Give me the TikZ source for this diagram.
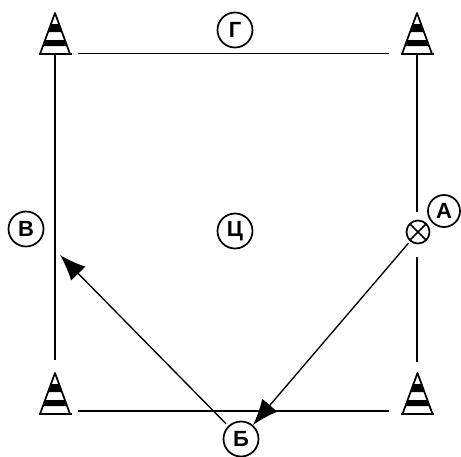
\documentclass[tikz,border=0pt]{standalone}
\usepackage{fontspec}
\setmainfont{Liberation Sans}
\usetikzlibrary{arrows.meta}
\tikzset{
  conebox/.style={minimum width=32*0.75pt,minimum height=41*0.75pt,inner sep=0pt,outer sep=0pt},
  conepic/.pic={
    \draw[line width=1.3pt,line join=round,fill=white] (-15,20.5) -- (0,-20.5) -- (15,20.5) -- cycle;
    \fill (-4,-9.5) -- (4,-9.5) -- (7,-1.5) -- (-7,-1.5) -- cycle;
    \fill (-9.9,6.5) -- (9.9,6.5) -- (12,12.5) -- (-12,12.5) -- cycle;
    \draw[line width=1.6pt] (-16.5,20.5) -- (16.5,20.5);
  },
  mark circle/.style={circle,draw,line width=1.3pt,minimum size=35*0.75pt,inner sep=0pt,font=\bfseries\fontsize{16.5}{16.5}\selectfont},
  thick line/.style={line width=1.7pt},
  thin line/.style={line width=0.9pt},
  arr/.style={line width=1pt,-{Latex[length=26*0.75pt,width=20*0.75pt]}},
}
\begin{document}
\begin{tikzpicture}[x=0.75pt,y=-0.75pt]
\useasboundingbox (0,0) rectangle (461,457);
\node[conebox] (c1) at (55,33.5) {};
\node[conebox] (c2) at (417,33.5) {};
\node[conebox] (c3) at (55,393.5) {};
\node[conebox] (c4) at (417.5,393.5) {};
\pic at (c1) {conepic};
\pic at (c2) {conepic};
\pic at (c3) {conepic};
\pic at (c4) {conepic};
\node[mark circle] (g) at (235,30) {Г};
\node[mark circle] (ts) at (235,231) {Ц};
\node[mark circle] (v) at (26,229) {В};
\node[mark circle] (b) at (241,439) {Б};
\node[mark circle,minimum size=32*0.75pt] (a) at (444,211) {А};
\node[circle,draw,line width=1.3pt,minimum size=23*0.75pt,inner sep=0pt,outer sep=0pt] (x) at (418,232) {};
\draw[line width=1.2pt] (x.north west) -- (x.south east) (x.north east) -- (x.south west);
\coordinate (t1) at (78,53.5);
\coordinate (t2) at (389,53.5);
\coordinate (b1) at (78,411);
\coordinate (b2) at (389,411);
\coordinate (vt) at (60,255);
\draw[thin line] (t1) -- (t2);
\draw[thick line] (b1) -- (b2);
\draw[thick line] (c1.south) -- (55,360) coordinate (l3);
\draw[thick line] (c2.south) -- (417,212) coordinate (r1);
\draw[thick line] (417,257) coordinate (r2) -- (417,362) coordinate (r3);
\draw[arr,shorten <=3*0.75pt] (x) -- (b);
\draw[arr,shorten <=3*0.75pt] (b) -- (vt);
\end{tikzpicture}
\end{document}
